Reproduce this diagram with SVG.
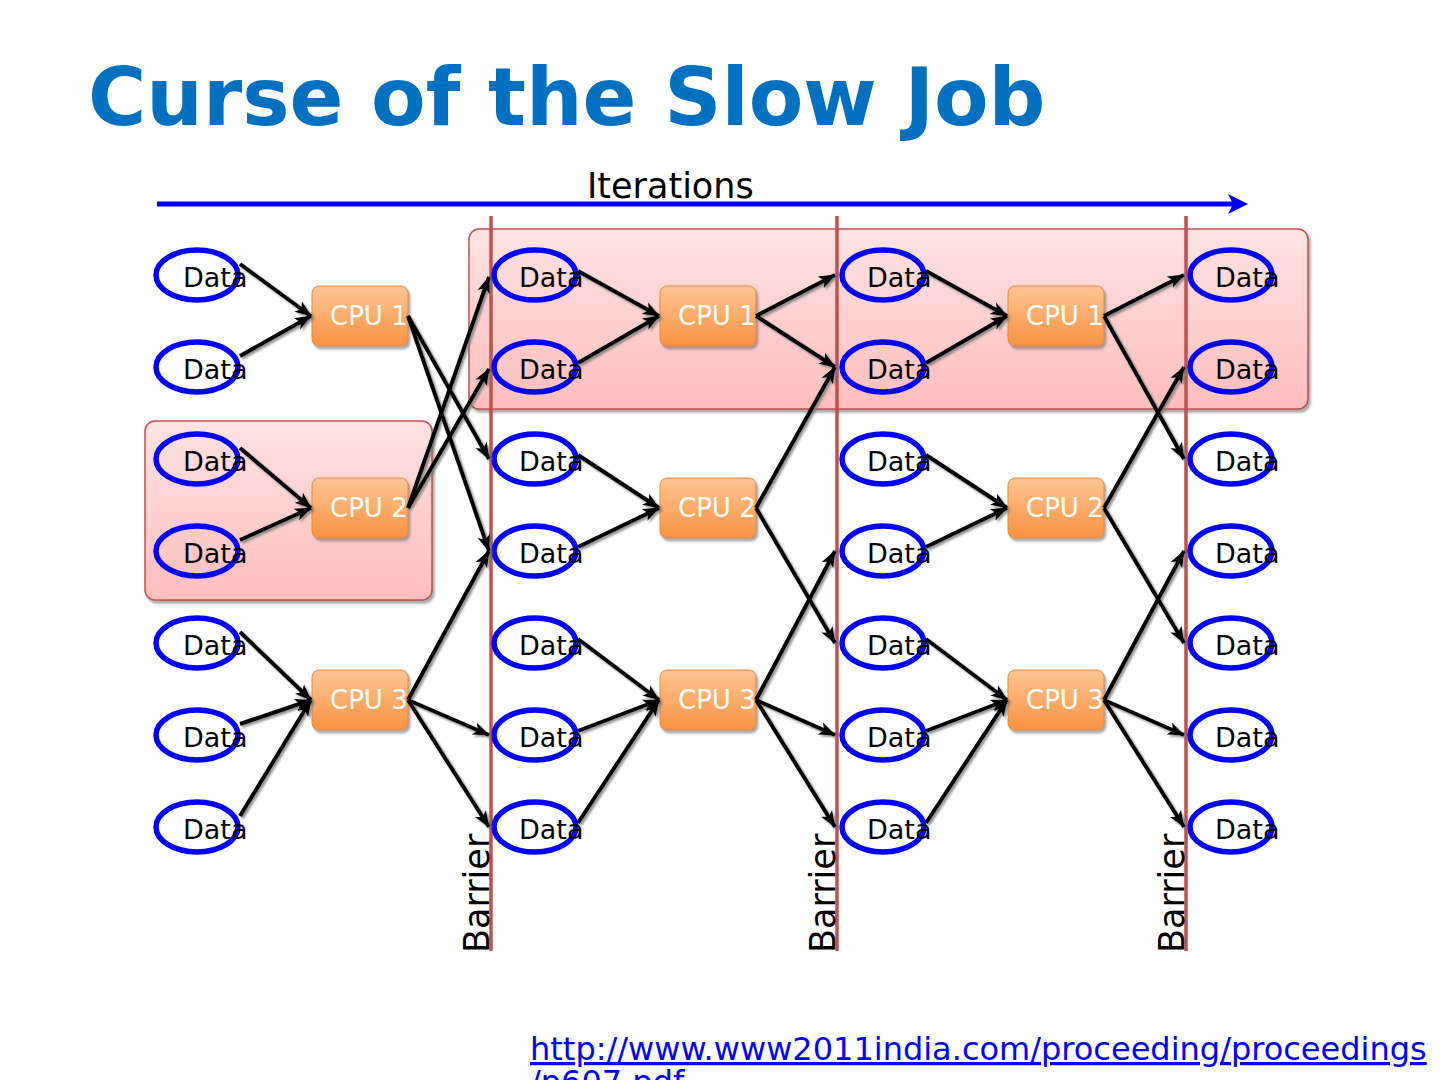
<svg xmlns="http://www.w3.org/2000/svg" width="1440" height="1080" viewBox="0 0 1440 1080">
<defs>
<linearGradient id="pinkGrad" x1="0" y1="0" x2="0" y2="1">
<stop offset="0" stop-color="#FFE3E3"/>
<stop offset="1" stop-color="#FFBDBD"/>
</linearGradient>
<linearGradient id="cpuGrad" x1="0" y1="0" x2="0" y2="1">
<stop offset="0" stop-color="#FFC594"/>
<stop offset="1" stop-color="#F79240"/>
</linearGradient>
<filter id="shadow" x="-20%" y="-20%" width="140%" height="140%">
<feDropShadow dx="2" dy="3" stdDeviation="1.2" flood-color="#707070" flood-opacity="0.6"/>
</filter>
<filter id="lshadow" x="-20%" y="-20%" width="140%" height="140%">
<feDropShadow dx="2" dy="2" stdDeviation="1" flood-color="#777777" flood-opacity="0.8"/>
</filter>
<marker id="ah" markerUnits="userSpaceOnUse" markerWidth="18" markerHeight="16" refX="16" refY="8" orient="auto">
<path d="M0,1.5 L17,8 L0,14.5 L4,8 z" fill="#000"/>
</marker>
<style>
.title{font-family:"DejaVu Sans",sans-serif;font-weight:bold;font-size:79.5px;fill:#0070C0}
.lbl{font-family:"DejaVu Sans",sans-serif;font-size:35px;fill:#000}
.bar{font-family:"DejaVu Sans",sans-serif;font-size:35px;fill:#000}
.dtxt{font-family:"DejaVu Sans",sans-serif;font-size:27px;fill:#000}
.ctxt{font-family:"DejaVu Sans",sans-serif;font-size:26px;fill:#fff}
.data{fill:none;stroke:#0000FF;stroke-width:5.5}
.cpu{fill:url(#cpuGrad);stroke:#E8883A;stroke-width:1;filter:url(#shadow)}
.pink{fill:url(#pinkGrad);stroke:#C0504D;stroke-width:1.5;filter:url(#shadow)}
.barrier{stroke:#C0504D;stroke-width:3.5}
.conn path{fill:none;stroke:#000;stroke-width:4;marker-end:url(#ah)}
.url{font-family:"DejaVu Sans",sans-serif;font-size:32px;fill:#0000FF;text-decoration:underline}
</style>
</defs>
<rect width="1440" height="1080" fill="#fff"/>
<text class="title" x="88" y="125">Curse of the Slow Job</text>

<g id="iterations">
<line x1="157" y1="204" x2="1234" y2="204" stroke="#0000FF" stroke-width="5"/>
<polygon points="1228,194 1248,204 1228,214 1233,204" fill="#0000FF"/>
<text class="lbl" x="587" y="198">Iterations</text>
</g>

<g id="group-slow">
<rect class="pink" x="469" y="229" width="839" height="180" rx="10"/>
</g>
<g id="group-cpu2">
<rect class="pink" x="145" y="421" width="287" height="179" rx="10"/>
</g>

<g id="barriers">
<line class="barrier" x1="491" y1="216" x2="491" y2="951"/>
<line class="barrier" x1="837" y1="216" x2="837" y2="951"/>
<line class="barrier" x1="1186" y1="216" x2="1186" y2="951"/>
<text class="bar" transform="translate(489,953) rotate(-90)">Barrier</text>
<text class="bar" transform="translate(835,953) rotate(-90)">Barrier</text>
<text class="bar" transform="translate(1184,953) rotate(-90)">Barrier</text>
</g>

<g id="data-col0">
<g id="d0-0"><ellipse class="data" cx="197" cy="275" rx="41" ry="25"/><text class="dtxt" x="183" y="287">Data</text></g>
<g id="d0-1"><ellipse class="data" cx="197" cy="367" rx="41" ry="25"/><text class="dtxt" x="183" y="379">Data</text></g>
<g id="d0-2"><ellipse class="data" cx="197" cy="459" rx="41" ry="25"/><text class="dtxt" x="183" y="471">Data</text></g>
<g id="d0-3"><ellipse class="data" cx="197" cy="551" rx="41" ry="25"/><text class="dtxt" x="183" y="563">Data</text></g>
<g id="d0-4"><ellipse class="data" cx="197" cy="643" rx="41" ry="25"/><text class="dtxt" x="183" y="655">Data</text></g>
<g id="d0-5"><ellipse class="data" cx="197" cy="735" rx="41" ry="25"/><text class="dtxt" x="183" y="747">Data</text></g>
<g id="d0-6"><ellipse class="data" cx="197" cy="827" rx="41" ry="25"/><text class="dtxt" x="183" y="839">Data</text></g>
</g>
<g id="data-col1">
<g id="d1-0"><ellipse class="data" cx="535" cy="275" rx="41" ry="25"/><text class="dtxt" x="519" y="287">Data</text></g>
<g id="d1-1"><ellipse class="data" cx="535" cy="367" rx="41" ry="25"/><text class="dtxt" x="519" y="379">Data</text></g>
<g id="d1-2"><ellipse class="data" cx="535" cy="459" rx="41" ry="25"/><text class="dtxt" x="519" y="471">Data</text></g>
<g id="d1-3"><ellipse class="data" cx="535" cy="551" rx="41" ry="25"/><text class="dtxt" x="519" y="563">Data</text></g>
<g id="d1-4"><ellipse class="data" cx="535" cy="643" rx="41" ry="25"/><text class="dtxt" x="519" y="655">Data</text></g>
<g id="d1-5"><ellipse class="data" cx="535" cy="735" rx="41" ry="25"/><text class="dtxt" x="519" y="747">Data</text></g>
<g id="d1-6"><ellipse class="data" cx="535" cy="827" rx="41" ry="25"/><text class="dtxt" x="519" y="839">Data</text></g>
</g>
<g id="data-col2">
<g id="d2-0"><ellipse class="data" cx="883" cy="275" rx="41" ry="25"/><text class="dtxt" x="867" y="287">Data</text></g>
<g id="d2-1"><ellipse class="data" cx="883" cy="367" rx="41" ry="25"/><text class="dtxt" x="867" y="379">Data</text></g>
<g id="d2-2"><ellipse class="data" cx="883" cy="459" rx="41" ry="25"/><text class="dtxt" x="867" y="471">Data</text></g>
<g id="d2-3"><ellipse class="data" cx="883" cy="551" rx="41" ry="25"/><text class="dtxt" x="867" y="563">Data</text></g>
<g id="d2-4"><ellipse class="data" cx="883" cy="643" rx="41" ry="25"/><text class="dtxt" x="867" y="655">Data</text></g>
<g id="d2-5"><ellipse class="data" cx="883" cy="735" rx="41" ry="25"/><text class="dtxt" x="867" y="747">Data</text></g>
<g id="d2-6"><ellipse class="data" cx="883" cy="827" rx="41" ry="25"/><text class="dtxt" x="867" y="839">Data</text></g>
</g>
<g id="data-col3">
<g id="d3-0"><ellipse class="data" cx="1231" cy="275" rx="41" ry="25"/><text class="dtxt" x="1215" y="287">Data</text></g>
<g id="d3-1"><ellipse class="data" cx="1231" cy="367" rx="41" ry="25"/><text class="dtxt" x="1215" y="379">Data</text></g>
<g id="d3-2"><ellipse class="data" cx="1231" cy="459" rx="41" ry="25"/><text class="dtxt" x="1215" y="471">Data</text></g>
<g id="d3-3"><ellipse class="data" cx="1231" cy="551" rx="41" ry="25"/><text class="dtxt" x="1215" y="563">Data</text></g>
<g id="d3-4"><ellipse class="data" cx="1231" cy="643" rx="41" ry="25"/><text class="dtxt" x="1215" y="655">Data</text></g>
<g id="d3-5"><ellipse class="data" cx="1231" cy="735" rx="41" ry="25"/><text class="dtxt" x="1215" y="747">Data</text></g>
<g id="d3-6"><ellipse class="data" cx="1231" cy="827" rx="41" ry="25"/><text class="dtxt" x="1215" y="839">Data</text></g>
</g>

<g id="cpu-col0">
<g id="c0-1"><rect class="cpu" x="312" y="286" width="96" height="60" rx="7"/><text class="ctxt" x="330" y="325">CPU 1</text></g>
<g id="c0-2"><rect class="cpu" x="312" y="478" width="96" height="60" rx="7"/><text class="ctxt" x="330" y="517">CPU 2</text></g>
<g id="c0-3"><rect class="cpu" x="312" y="670" width="96" height="60" rx="7"/><text class="ctxt" x="330" y="709">CPU 3</text></g>
</g>
<g id="cpu-col1">
<g id="c1-1"><rect class="cpu" x="660" y="286" width="96" height="60" rx="7"/><text class="ctxt" x="678" y="325">CPU 1</text></g>
<g id="c1-2"><rect class="cpu" x="660" y="478" width="96" height="60" rx="7"/><text class="ctxt" x="678" y="517">CPU 2</text></g>
<g id="c1-3"><rect class="cpu" x="660" y="670" width="96" height="60" rx="7"/><text class="ctxt" x="678" y="709">CPU 3</text></g>
</g>
<g id="cpu-col2">
<g id="c2-1"><rect class="cpu" x="1008" y="286" width="96" height="60" rx="7"/><text class="ctxt" x="1026" y="325">CPU 1</text></g>
<g id="c2-2"><rect class="cpu" x="1008" y="478" width="96" height="60" rx="7"/><text class="ctxt" x="1026" y="517">CPU 2</text></g>
<g id="c2-3"><rect class="cpu" x="1008" y="670" width="96" height="60" rx="7"/><text class="ctxt" x="1026" y="709">CPU 3</text></g>
</g>

<g id="connectors" class="conn" filter="url(#lshadow)">
<path d="M240,264 L311,316"/>
<path d="M240,356 L311,316"/>
<path d="M240,448 L311,508"/>
<path d="M240,540 L311,508"/>
<path d="M240,632 L311,700"/>
<path d="M240,724 L311,700"/>
<path d="M240,816 L311,700"/>
<path d="M408,316 L489,459"/>
<path d="M408,316 L489,551"/>
<path d="M408,508 L489,277"/>
<path d="M408,508 L489,369"/>
<path d="M408,700 L489,551"/>
<path d="M408,700 L489,735"/>
<path d="M408,700 L489,827"/>

<path d="M578,271 L659,316"/>
<path d="M578,363 L659,316"/>
<path d="M578,455 L659,508"/>
<path d="M578,547 L659,508"/>
<path d="M578,639 L659,700"/>
<path d="M578,731 L659,700"/>
<path d="M578,823 L659,700"/>
<path d="M756,316 L835,275"/>
<path d="M756,316 L835,367"/>
<path d="M756,508 L835,367"/>
<path d="M756,508 L835,643"/>
<path d="M756,700 L835,551"/>
<path d="M756,700 L835,735"/>
<path d="M756,700 L835,827"/>

<path d="M926,271 L1007,316"/>
<path d="M926,363 L1007,316"/>
<path d="M926,455 L1007,508"/>
<path d="M926,547 L1007,508"/>
<path d="M926,639 L1007,700"/>
<path d="M926,731 L1007,700"/>
<path d="M926,823 L1007,700"/>
<path d="M1104,316 L1184,275"/>
<path d="M1104,316 L1184,459"/>
<path d="M1104,508 L1184,367"/>
<path d="M1104,508 L1184,643"/>
<path d="M1104,700 L1184,551"/>
<path d="M1104,700 L1184,735"/>
<path d="M1104,700 L1184,827"/>
</g>

<text class="url" x="530" y="1060">http://www.www2011india.com/proceeding/proceedings</text>
<text class="url" x="530" y="1093">/p607.pdf</text>
</svg>
